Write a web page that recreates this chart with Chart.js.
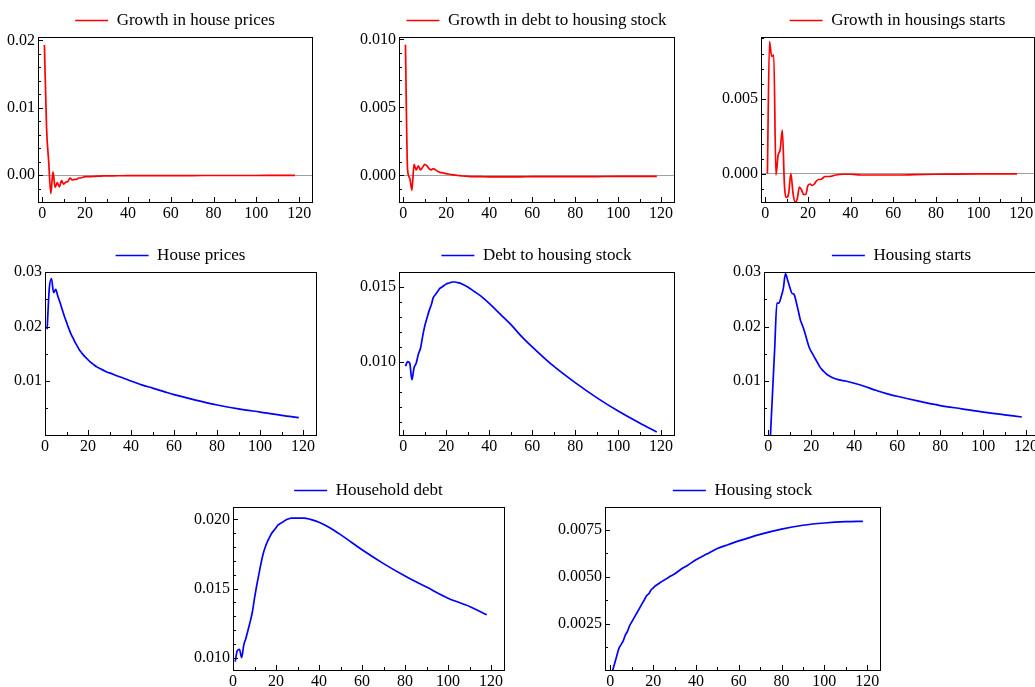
<!DOCTYPE html>
<html>
<head>
<meta charset="utf-8">
<title>Impulse responses</title>
<script src="https://cdn.jsdelivr.net/npm/chart.js@4.4.1/dist/chart.umd.min.js"></script>
<style>
  html, body { margin: 0; padding: 0; background: #fff; overflow: hidden; }
  body { width: 1035px; height: 687px; position: relative; }
  .panel { position: absolute; }
</style>
</head>
<body>
<canvas id="p1" class="panel"></canvas>
<canvas id="p2" class="panel"></canvas>
<canvas id="p3" class="panel"></canvas>
<canvas id="p4" class="panel"></canvas>
<canvas id="p5" class="panel"></canvas>
<canvas id="p6" class="panel"></canvas>
<canvas id="p7" class="panel"></canvas>
<canvas id="p8" class="panel"></canvas>
<script>
// periods after the shock (sampled densely early on, sparser later)
const periods = [1, 2, 3, 4, 5, 6, 7, 8, 9, 10, 11, 12, 13, 14, 15, 16, 17, 18, 19, 20,
  21, 22, 23, 24, 25, 26, 27, 28, 29, 30, 33, 36, 40, 45, 50, 55, 60, 70, 80, 90, 100, 110, 118];

const growthHousePrices = [0.0193, 0.0070, 0.0020, -0.0027, 0.0005, -0.0018, -0.0011, -0.0017, -0.0008, -0.0013,
  -0.0010, -0.0009, -0.0004, -0.0007, -0.0006, -0.0006, -0.0004, -0.0004, -0.0003, -0.0002,
  -0.0002, -0.0002, -0.0002, -0.00015, -0.00015, -0.00012, -0.00012, -0.0001, -0.0001, -0.0001,
  -0.00008, -0.00007, -0.00006, -0.00005, -0.00005, -0.00004, -0.00004, -0.00004, -0.00003, -0.00003, -0.00003, -0.00002, -0.00002];

const growthDebtToStock = [0.0096, 0.0004, -0.0002, -0.0011, 0.0008, 0.0004, 0.0007, 0.0004, 0.0006, 0.0008,
  0.0007, 0.0005, 0.0004, 0.0005, 0.0004, 0.0003, 0.00022, 0.0002, 0.00016, 0.00012,
  0.0001, 0.00006, 0.00004, 0.00002, 0.0, -0.00002, -0.00004, -0.00005, -0.00006, -0.00007,
  -0.00009, -0.0001, -0.00011, -0.00011, -0.00011, -0.00011, -0.0001, -0.0001, -0.0001, -0.00009, -0.00008, -0.00008, -0.00007];

const growthHousingStarts = [0.0, 0.0088, 0.0078, 0.0079, -0.0001, 0.0012, 0.0016, 0.0029, -0.0008, -0.0016,
  -0.0013, 0.0, -0.0013, -0.0019, -0.0017, -0.0009, -0.0011, -0.0014, -0.0014, -0.0008,
  -0.0007, -0.0008, -0.0007, -0.0005, -0.0004, -0.0004, -0.0003, -0.0002, -0.0002, -0.0002,
  -0.0001, -0.00005, -0.00005, -0.0001, -0.0001, -0.0001, -0.0001, -0.00008, -0.00005, -0.00004, -0.00003, -0.00002, -0.00002];

const housePrices = [0.0195, 0.0270, 0.0288, 0.0262, 0.0268, 0.0255, 0.0244, 0.0231, 0.0219, 0.0208,
  0.0197, 0.0187, 0.0179, 0.0171, 0.0164, 0.0157, 0.0152, 0.0147, 0.0143, 0.0139,
  0.0135, 0.0132, 0.0129, 0.0126, 0.0124, 0.0122, 0.0120, 0.0118, 0.0116, 0.0115,
  0.0110, 0.0106, 0.0100, 0.0093, 0.0087, 0.0081, 0.0075, 0.0065, 0.0056, 0.0049, 0.0043, 0.0037, 0.0033];

const debtToStock = [0.0097, 0.0100, 0.0099, 0.0088, 0.0096, 0.0099, 0.0105, 0.0109, 0.0117, 0.0124,
  0.0129, 0.0134, 0.0138, 0.0143, 0.0145, 0.0147, 0.0149, 0.0150, 0.0151, 0.0152,
  0.01525, 0.0153, 0.01533, 0.01533, 0.0153, 0.01527, 0.01522, 0.01515, 0.01508, 0.0150,
  0.0147, 0.0144, 0.0139, 0.0132, 0.0125, 0.0117, 0.0110, 0.0097, 0.0086, 0.0076, 0.0067, 0.0059, 0.0053];

const housingStarts = [0.0, 0.0081, 0.0162, 0.0243, 0.0243, 0.0255, 0.0270, 0.0297, 0.0285, 0.0272,
  0.0261, 0.0259, 0.0245, 0.0228, 0.0211, 0.0201, 0.0189, 0.0175, 0.0162, 0.0154,
  0.0147, 0.0140, 0.0133, 0.0126, 0.0121, 0.0117, 0.0113, 0.0110, 0.0108, 0.0106,
  0.0102, 0.0100, 0.0096, 0.0090, 0.0083, 0.0077, 0.0072, 0.0063, 0.0055, 0.0049, 0.0043, 0.0038, 0.0034];

const householdDebt = [0.0097, 0.0105, 0.0106, 0.0100, 0.0109, 0.0114, 0.0120, 0.0126, 0.0133, 0.0143,
  0.0152, 0.0160, 0.0168, 0.0175, 0.0180, 0.0184, 0.0187, 0.0190, 0.0192, 0.0194,
  0.0196, 0.0197, 0.0198, 0.0199, 0.0200, 0.02005, 0.0201, 0.0201, 0.0201, 0.0201,
  0.0201, 0.0200, 0.0198, 0.0194, 0.0189, 0.01835, 0.0178, 0.0168, 0.0159, 0.0151, 0.0143, 0.0137, 0.0131];

const housingStock = [0.0000, 0.0004, 0.0008, 0.0012, 0.0014, 0.0016, 0.0019, 0.0021, 0.0024, 0.0026,
  0.0028, 0.0030, 0.0032, 0.0034, 0.0036, 0.0038, 0.0040, 0.0041, 0.0043, 0.0044,
  0.00451, 0.00459, 0.00467, 0.00474, 0.00481, 0.00488, 0.00495, 0.00502, 0.00508, 0.00514,
  0.0054, 0.0056, 0.0059, 0.0062, 0.0065, 0.0067, 0.0069, 0.00725, 0.00753, 0.00773, 0.00785, 0.00792, 0.00794];

const xTickLabels = [0, 20, 40, 60, 80, 100, 120];

const RED = '#ff0000';
const BLUE = '#0000ff';
const AXIS_W = 52;     // room for y tick labels (and a matching blank on the right)
const LEGEND_H = 33;   // 17px font + 6 padding + 10
const XAXIS_H = 24;
const tickFont = { family: 'Liberation Serif', size: 16 };

// frame around the plot + small inward tick marks (minor and major)
const frameTicks = {
  id: 'frameTicks',
  afterLayout(chart) {
    // legend sits a little closer to the plot in the original
    chart.legend.top += 2;
    chart.legend.bottom += 2;
  },
  afterDatasetsDraw(chart, args, opts) {
    const { ctx, chartArea: a } = chart;
    const x = chart.scales.x, y = chart.scales.y;
    ctx.save();
    ctx.strokeStyle = '#000';
    ctx.lineWidth = 1;
    ctx.beginPath();
    const xStep = (xTickLabels[1] - xTickLabels[0]) / 2;
    for (let k = Math.ceil(x.min / xStep); k * xStep <= x.max; k++) {
      const px = Math.round(x.getPixelForValue(k * xStep)) + 0.5;
      const len = k % 2 === 0 ? 5 : 3;
      ctx.moveTo(px, a.bottom);
      ctx.lineTo(px, a.bottom - len);
    }
    for (let k = Math.ceil(y.min / opts.minor - 1e-9); k * opts.minor <= y.max + 1e-12; k++) {
      const py = Math.round(y.getPixelForValue(k * opts.minor)) + 0.5;
      const len = k % opts.ratio === 0 ? 5 : 3;
      ctx.moveTo(a.left, py);
      ctx.lineTo(a.left + len, py);
    }
    ctx.stroke();
    ctx.strokeRect(Math.round(a.left) + 0.5, Math.round(a.top) + 0.5,
      Math.round(a.right - a.left), Math.round(a.bottom - a.top));
    ctx.restore();
  }
};

function makePanel(id, box, label, color, values, yAxis) {
  const canvas = document.getElementById(id);
  const w = box.r - box.l, h = box.b - box.t;
  canvas.width = w + 2 * AXIS_W;
  canvas.height = h + LEGEND_H + XAXIS_H;
  canvas.style.left = (box.l - AXIS_W) + 'px';
  canvas.style.top = (box.t - LEGEND_H) + 'px';

  return new Chart(canvas, {
    type: 'line',
    data: {
      datasets: [{
        label: label,
        data: periods.map((p, i) => ({ x: p, y: values[i] })),
        borderColor: color,
        borderWidth: 1.7,
        pointRadius: 0,
        fill: false,
        cubicInterpolationMode: 'monotone'
      }]
    },
    options: {
      responsive: false,
      animation: false,
      devicePixelRatio: 1,
      layout: { padding: 0 },
      scales: {
        x: {
          type: 'linear',
          min: box.xmin,
          max: 126,
          grid: { display: false, drawTicks: false },
          border: { display: false },
          ticks: {
            stepSize: xTickLabels[1] - xTickLabels[0],
            includeBounds: false,
            autoSkip: false,
            maxRotation: 0,
            padding: 2,
            color: '#000',
            font: tickFont
          },
          afterFit: s => { s.height = XAXIS_H; }
        },
        y: {
          min: yAxis.min,
          max: yAxis.max,
          grid: {
            drawTicks: false,
            lineWidth: 1,
            color: c => (c.tick && Math.abs(c.tick.value) < 1e-12) ? '#a0a0a0' : 'rgba(0,0,0,0)'
          },
          border: { display: false },
          ticks: {
            stepSize: yAxis.major,
            includeBounds: false,
            padding: 3,
            color: '#000',
            font: tickFont,
            callback: v => v.toFixed(yAxis.dec)
          },
          afterFit: s => { s.width = AXIS_W; }
        },
        yRight: {
          position: 'right',
          grid: { display: false, drawTicks: false },
          border: { display: false },
          ticks: { display: false },
          afterFit: s => { s.width = AXIS_W; }
        }
      },
      plugins: {
        legend: {
          labels: {
            usePointStyle: true,
            pointStyle: 'line',
            pointStyleWidth: 33,
            padding: 6,
            color: '#000',
            font: { family: 'Liberation Serif', size: 17 }
          }
        },
        tooltip: { enabled: false },
        frameTicks: { minor: yAxis.minor, ratio: Math.round(yAxis.major / yAxis.minor) }
      }
    },
    plugins: [frameTicks]
  });
}

makePanel('p1', { l: 38, t: 37, r: 312, b: 202, xmin: -2 }, 'Growth in house prices', RED, growthHousePrices,
  { min: -0.00396, max: 0.0205, major: 0.01, minor: 0.002, dec: 2 });
makePanel('p2', { l: 399, t: 37, r: 674, b: 202, xmin: -2 }, 'Growth in debt to housing stock', RED, growthDebtToStock,
  { min: -0.00196, max: 0.01017, major: 0.005, minor: 0.001, dec: 3 });
makePanel('p3', { l: 761, t: 37, r: 1034, b: 202, xmin: -2 }, 'Growth in housings starts', RED, growthHousingStarts,
  { min: -0.0019, max: 0.0091, major: 0.005, minor: 0.001, dec: 3 });

makePanel('p4', { l: 45, t: 272, r: 316, b: 435, xmin: 0 }, 'House prices', BLUE, housePrices,
  { min: 0.0001, max: 0.03, major: 0.01, minor: 0.005, dec: 2 });
makePanel('p5', { l: 399, t: 272, r: 674, b: 435, xmin: -2 }, 'Debt to housing stock', BLUE, debtToStock,
  { min: 0.0051, max: 0.016, major: 0.005, minor: 0.001, dec: 3 });
makePanel('p6', { l: 764, t: 272, r: 1039, b: 435, xmin: -2 }, 'Housing starts', BLUE, housingStarts,
  { min: 0.0001, max: 0.03, major: 0.01, minor: 0.005, dec: 2 });

makePanel('p7', { l: 233, t: 507, r: 504, b: 670, xmin: 0 }, 'Household debt', BLUE, householdDebt,
  { min: 0.0091, max: 0.0209, major: 0.005, minor: 0.001, dec: 3 });
makePanel('p8', { l: 605, t: 507, r: 880, b: 670, xmin: -2.5 }, 'Housing stock', BLUE, housingStock,
  { min: 0.00005, max: 0.0087, major: 0.0025, minor: 0.00125, dec: 4 });
</script>
</body>
</html>
